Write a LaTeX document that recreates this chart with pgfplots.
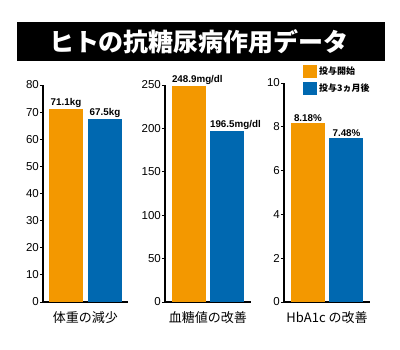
\documentclass[border=0pt]{standalone}
\usepackage{pgfplots}
\pgfplotsset{compat=1.18}
\usepackage{fontspec}
\setmainfont{Liberation Sans}
\newfontfamily\cjk{Noto Sans CJK JP}
\definecolor{myorange}{RGB}{243,152,0}
\definecolor{myblue}{RGB}{0,104,176}
\pgfplotsset{
 panel/.style={
  scale only axis,
  axis x line*=bottom, axis y line*=left,
  axis line style={line width=1.3pt, -},
  xtick=\empty,
  ymin=0,
  tick align=outside,
  ytick style={line width=0.9pt, black},
  major tick length=3pt,
  yticklabel style={font=\fontsize{11.5}{12}\selectfont, inner sep=1pt},
  /pgf/number format/assume math mode=true,
  ybar, bar width=34pt, bar shift=0pt,
  nodes near coords, point meta=explicit symbolic,
  every node near coord/.append style={font=\bfseries\fontsize{9.8}{10}\selectfont, black, inner sep=1.5pt},
  clip=false,
  xlabel style={at={(axis description cs:0.5,0)}, anchor=center, yshift=-16pt, font=\cjk\fontsize{13}{13}\selectfont},
 }
}
\begin{document}
\begin{tikzpicture}[x=1pt,y=1pt]
\useasboundingbox (0,0) rectangle (400,350);
\fill[black] (17,289) rectangle (385,328);
\node[white, font=\cjk\bfseries\fontsize{25}{25}\selectfont] at (199,308.5) {ヒトの抗糖尿病作用データ};
% panel 1
\begin{axis}[panel, at={(43pt,48pt)}, anchor=south west, width=85pt, height=217pt,
  xmin=-0.59, xmax=1.59, ymax=80, ytick={0,10,...,80}, xlabel={体重の減少}]
\addplot[fill=myorange, draw=none] coordinates {(0,71.1) [71.1kg]};
\addplot[fill=myblue, draw=none] coordinates {(1,67.5) [67.5kg]};
\end{axis}
% panel 2
\begin{axis}[panel, at={(165pt,48pt)}, anchor=south west, width=86pt, height=217pt,
  xmin=-0.64, xmax=1.62, ymax=250, ytick={0,50,...,250}, xlabel={血糖値の改善},
  every node near coord/.append style={xshift=8pt}]
\addplot[fill=myorange, draw=none] coordinates {(0,248.9) [248.9mg/dl]};
\addplot[fill=myblue, draw=none] coordinates {(1,196.5) [196.5mg/dl]};
\end{axis}
% panel 3
\begin{axis}[panel, at={(284pt,48pt)}, anchor=south west, width=86pt, height=219pt,
  xmin=-0.62, xmax=1.61, ymax=10, ytick={0,2,...,10}, xlabel={HbA1c の改善},
  legend style={at={(axis description cs:0.22,1.082)}, anchor=north west, draw=none, fill=none,
    font=\cjk\bfseries\fontsize{9}{9}\selectfont, row sep=3pt, inner sep=0pt,
    nodes={inner sep=2pt}},
  legend cell align=left,
  legend image code/.code={\fill[#1, draw=none] (0pt,-6.5pt) rectangle (14pt,6.5pt);}]
\addplot[fill=myorange, draw=none] coordinates {(0,8.18) [8.18\%]};
\addplot[fill=myblue, draw=none] coordinates {(1,7.48) [7.48\%]};
\legend{投与開始, 投与3ヵ月後}
\end{axis}
\end{tikzpicture}
\end{document}
